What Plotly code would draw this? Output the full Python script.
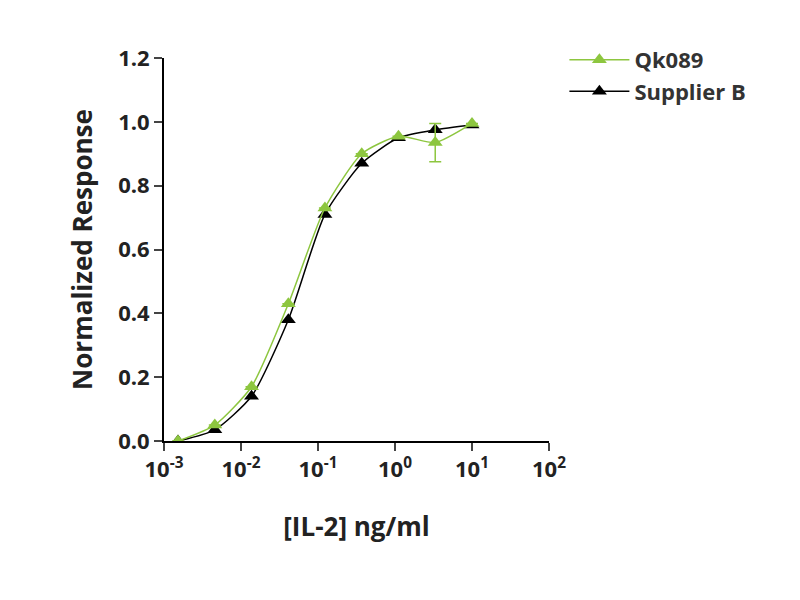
import plotly.graph_objects as go

conc = [0.00152, 0.00457, 0.0137, 0.0412, 0.123, 0.37, 1.11, 3.33, 10.0]
qk089 = [0.00, 0.05, 0.17, 0.43, 0.73, 0.90, 0.955, 0.935, 0.995]
qk089_err = [0, 0, 0, 0, 0, 0, 0, 0.06, 0]
supplier_b = [0.00, 0.035, 0.14, 0.38, 0.71, 0.87, 0.95, 0.975, 0.99]
tick_vals = [0.001, 0.01, 0.1, 1, 10, 100]
tick_text = ["10<sup>-3</sup>", "10<sup>-2</sup>", "10<sup>-1</sup>", "10<sup>0</sup>", "10<sup>1</sup>", "10<sup>2</sup>"]

green = "#8dc63f"
fig = go.Figure()
fig.add_trace(go.Scatter(x=conc, y=supplier_b, mode="lines+markers", name="<b>Supplier B</b>",
                         line=dict(color="black", width=1.5, shape="spline", smoothing=0.6),
                         marker=dict(symbol="triangle-up", size=13, color="black")))
fig.add_trace(go.Scatter(x=conc, y=qk089, mode="lines+markers", name="<b>Qk089</b>",
                         error_y=dict(type="data", array=qk089_err, color=green, thickness=1.5, width=6),
                         line=dict(color=green, width=1.5, shape="spline", smoothing=0.6),
                         marker=dict(symbol="triangle-up", size=13, color=green)))
fig.update_layout(
    width=800, height=600, plot_bgcolor="white", paper_bgcolor="white",
    margin=dict(l=156, r=259, t=50, b=167),
    font=dict(family="Open Sans", size=20, color="#222"),
    legend=dict(x=1.04, y=1.05, xanchor="left", yanchor="top", traceorder="reversed",
                font=dict(size=22, color="#333"), itemwidth=60, tracegroupgap=30),
    xaxis=dict(type="log", range=[-3, 2], tickvals=tick_vals, ticktext=tick_text,
               showline=True, linecolor="black", linewidth=2, ticks="outside", ticklen=8, tickwidth=2,
               showgrid=False, zeroline=False,
               title=dict(text="<b>[IL-2] ng/ml</b>", font=dict(size=26), standoff=35),
               tickfont=dict(size=22, weight="bold")),
    yaxis=dict(range=[0, 1.2], dtick=0.2, tickformat=".1f",
               showline=True, linecolor="black", linewidth=2, ticks="outside", ticklen=8, tickwidth=2,
               showgrid=False, zeroline=False,
               title=dict(text="<b>Normalized Response</b>", font=dict(size=26), standoff=18),
               tickfont=dict(size=22, weight="bold")),
)
fig.write_html("out.html")
